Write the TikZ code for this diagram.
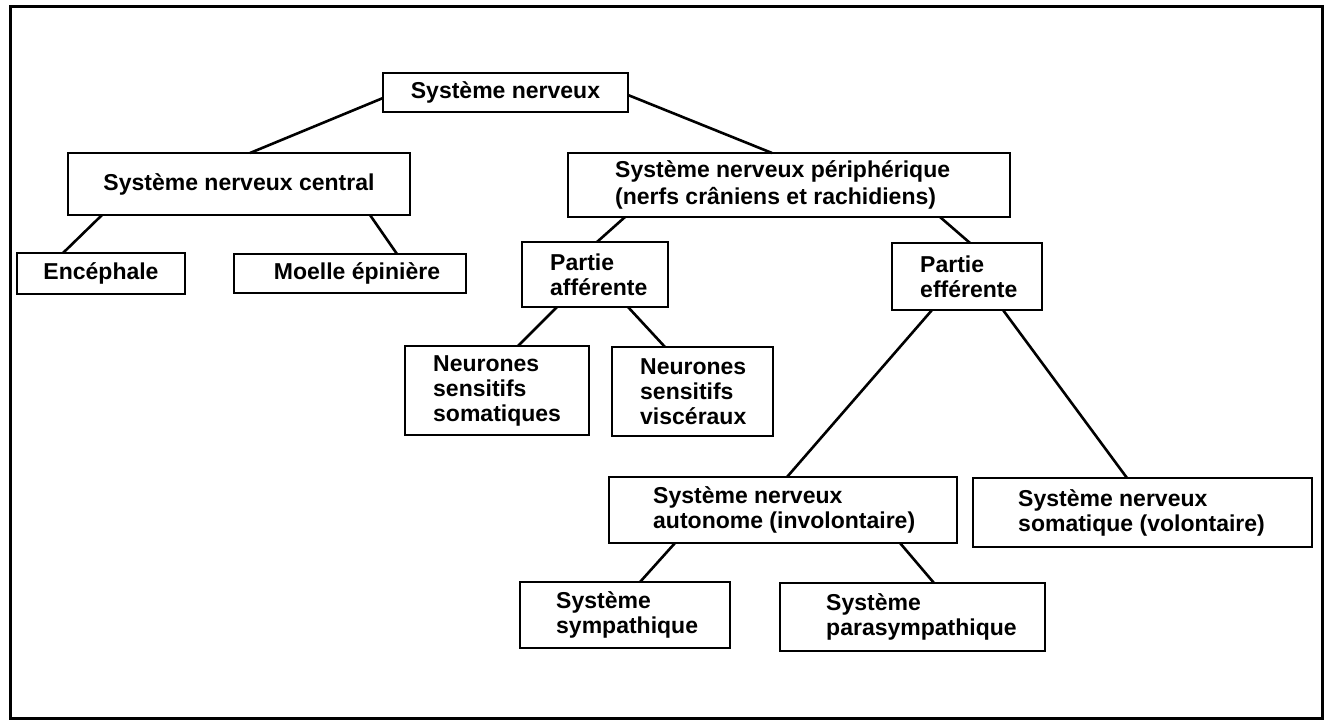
\documentclass[tikz,border=0pt]{standalone}
\usepackage{fontspec}
\setmainfont{Liberation Sans}
\newcommand\lbfont{\fontsize{23}{25}\selectfont\bfseries}
\newcommand\lbfontw{\fontsize{23}{27}\selectfont\bfseries}
\tikzset{
  box/.style={draw, line width=2.8pt, outer sep=0pt, inner sep=0pt, anchor=north west},
  lbl/.style={font=\lbfont, align=left, inner sep=0pt, anchor=west},
  lblw/.style={font=\lbfontw, align=left, inner sep=0pt, anchor=west},
  clbl/.style={font=\lbfont, inner sep=0pt},
  link/.style={line width=2.6pt},
  frame/.style={line width=3pt},
}
\begin{document}
\begin{tikzpicture}[x=1pt, y=-1pt]
\useasboundingbox (0,0) rectangle (1329,721);
\draw[frame] (10,6) rectangle (1322,718);

% boxes
\node[box, minimum width=245pt, minimum height=39pt] (sn) at (383,73) {};
\node[box, minimum width=342pt, minimum height=62pt] (snc) at (68,153) {};
\node[box, minimum width=442pt, minimum height=64pt] (snp) at (568,153) {};
\node[box, minimum width=168pt, minimum height=41pt] (enc) at (17,253) {};
\node[box, minimum width=232pt, minimum height=39pt] (moe) at (234,254) {};
\node[box, minimum width=146pt, minimum height=65pt] (aff) at (522,242) {};
\node[box, minimum width=150pt, minimum height=67pt] (eff) at (892,243) {};
\node[box, minimum width=184pt, minimum height=89pt] (som) at (405,346) {};
\node[box, minimum width=161pt, minimum height=89pt] (vis) at (612,347) {};
\node[box, minimum width=348pt, minimum height=66pt] (aut) at (609,477) {};
\node[box, minimum width=339pt, minimum height=69pt] (vol) at (973,478) {};
\node[box, minimum width=210pt, minimum height=66pt] (sym) at (520,582) {};
\node[box, minimum width=265pt, minimum height=68pt] (par) at (780,583) {};

% labels
\node[clbl] (snT) at (sn.center) {Système nerveux};
\node[clbl] (sncT) at (snc.center) {Système nerveux central};
\node[clbl] (encT) at (enc.center) {Encéphale};
\node[clbl] (moeT) at ([xshift=7pt]moe.center) {Moelle épinière};
\node[lblw] (snpT) at ([xshift=47pt]snp.west) {Système nerveux périphérique\\(nerfs crâniens et rachidiens)};
\node[lbl] (affT) at ([xshift=28pt]aff.west) {Partie\\afférente};
\node[lbl] (effT) at ([xshift=28pt]eff.west) {Partie\\efférente};
\node[lbl] (somT) at ([xshift=28pt]som.west) {Neurones\\sensitifs\\somatiques};
\node[lbl] (visT) at ([xshift=28pt]vis.west) {Neurones\\sensitifs\\viscéraux};
\node[lbl] (autT) at ([xshift=44pt]aut.west) {Système nerveux\\autonome (involontaire)};
\node[lbl] (volT) at ([xshift=45pt]vol.west) {Système nerveux\\somatique (volontaire)};
\node[lbl] (symT) at ([xshift=36pt]sym.west) {Système\\sympathique};
\node[lbl] (parT) at ([xshift=46pt]par.west) {Système\\parasympathique};

% connectors
\draw[link] ([yshift=-25pt]sn.north west) -- ([xshift=182pt]snc.north west);
\draw[link] ([yshift=-22pt]sn.north east) -- ([xshift=204pt]snp.north west);
\draw[link] ([xshift=34pt]snc.south west) -- ([xshift=46pt]enc.north west);
\draw[link] ([xshift=-40pt]snc.south east) -- ([xshift=163pt]moe.north west);
\draw[link] ([xshift=57pt]snp.south west) -- ([xshift=75pt]aff.north west);
\draw[link] ([xshift=372pt]snp.south west) -- ([xshift=78pt]eff.north west);
\draw[link] ([xshift=35pt]aff.south west) -- ([xshift=113pt]som.north west);
\draw[link] ([xshift=106pt]aff.south west) -- ([xshift=53pt]vis.north west);
\draw[link] ([xshift=40pt]eff.south west) -- ([xshift=178pt]aut.north west);
\draw[link] ([xshift=111pt]eff.south west) -- ([xshift=154pt]vol.north west);
\draw[link] ([xshift=66pt]aut.south west) -- ([xshift=120pt]sym.north west);
\draw[link] ([xshift=291pt]aut.south west) -- ([xshift=154pt]par.north west);
\end{tikzpicture}
\end{document}
